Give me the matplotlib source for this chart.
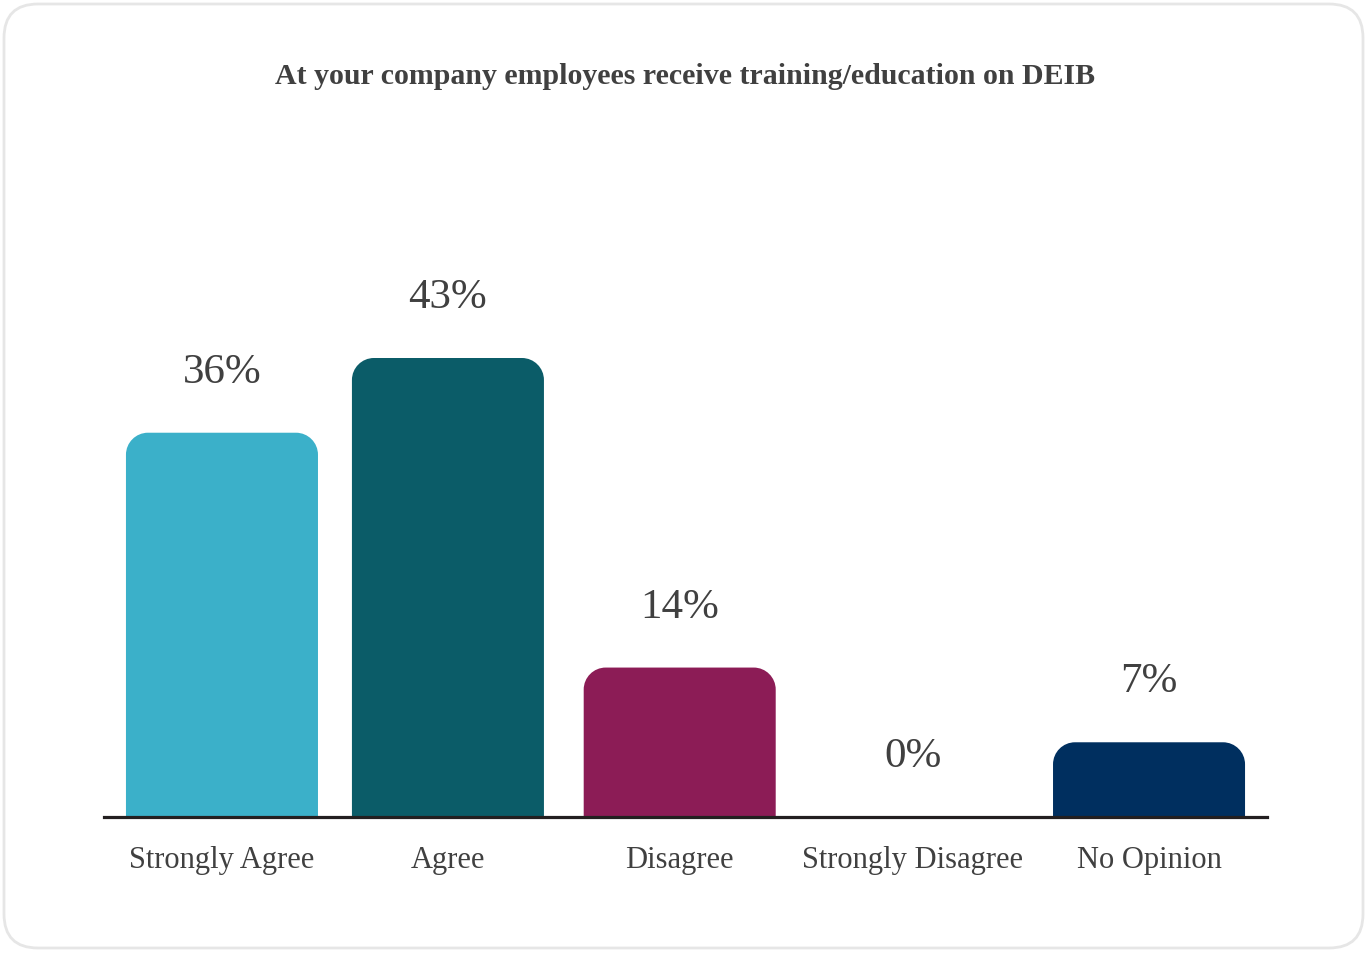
import matplotlib
matplotlib.use('Agg')
import matplotlib.pyplot as plt
from matplotlib.path import Path
from matplotlib.patches import PathPatch, FancyBboxPatch

# survey answers and shares (percent)
categories = ['Strongly Agree', 'Agree', 'Disagree', 'Strongly Disagree', 'No Opinion']
shares = [36, 43, 14, 0, 7]
bar_colors = ['#3BB0C9', '#0B5C68', '#8C1C56', '#6E6E6E', '#002F5F']
title = 'At your company employees receive training/education on DEIB'

W, H = 1367, 954
txt = '#404040'
serif = ['Liberation Serif', 'DejaVu Serif']

fig = plt.figure(figsize=(W / 100, H / 100), dpi=100)

# background card with rounded border, drawn in pixel units
bg = fig.add_axes([0, 0, 1, 1])
bg.set_xlim(0, W)
bg.set_ylim(0, H)
bg.axis('off')
card = FancyBboxPatch((4 + 34, 5 + 34), W - 8 - 68, H - 10 - 68,
                      boxstyle='round,pad=34,rounding_size=34',
                      facecolor='white', edgecolor='#E6E6E6', linewidth=2)
bg.add_patch(card)

# plotting area: baseline at y=818 px, ~231.75 px between bars
left, right = 104, 1267
base_y = 818
px_per_pct = 459 / 43
ax = fig.add_axes([left / W, (H - base_y) / H, (right - left) / W, 520 / H])
ax.set_xlim(-0.509, 4.509)
ax.set_ylim(0, 520 / px_per_pct)
ax.patch.set_visible(False)
for s in ['top', 'right', 'left']:
    ax.spines[s].set_visible(False)
ax.spines['bottom'].set_color('#231F20')
ax.spines['bottom'].set_linewidth(2.3)
ax.set_yticks([])

bar_w = 192 / 231.75
rad_px = 22
rx = rad_px / 231.75
ry = rad_px / px_per_pct
k = 0.5523


def rounded_top(x0, w, h):
    # bar outline with rounded top corners (quarter circles as bezier curves)
    x1 = x0 + w
    r_y = min(ry, h)
    verts = [(x0, 0), (x0, h - r_y),
             (x0, h - r_y + k * r_y), (x0 + rx - k * rx, h), (x0 + rx, h),
             (x1 - rx, h),
             (x1 - rx + k * rx, h), (x1, h - r_y + k * r_y), (x1, h - r_y),
             (x1, 0), (x0, 0)]
    codes = [Path.MOVETO, Path.LINETO,
             Path.CURVE4, Path.CURVE4, Path.CURVE4,
             Path.LINETO,
             Path.CURVE4, Path.CURVE4, Path.CURVE4,
             Path.LINETO, Path.CLOSEPOLY]
    return Path(verts, codes)


xpos = [0, 0.975, 1.975, 2.98, 4]
bars = ax.bar(xpos, shares, width=bar_w, color=bar_colors)
for b, c in zip(bars, bar_colors):
    b.set_visible(False)
    if b.get_height() > 0:
        ax.add_patch(PathPatch(rounded_top(b.get_x(), b.get_width(), b.get_height()),
                               facecolor=c, edgecolor='none', zorder=2))

for x, v in zip(xpos, shares):
    ax.annotate(f'{v}%', (x, v), xytext=(0, 44), textcoords='offset points',
                ha='center', va='center', fontsize=31, color=txt,
                family=serif, annotation_clip=False)

ax.set_xticks(xpos)
ax.set_xticklabels(categories, fontsize=22, color=txt, family=serif)
ax.tick_params(axis='x', length=0, pad=20)

fig.text(685 / W, 1 - 76 / H, title, ha='center', va='center',
         fontsize=21.5, fontweight='bold', color=txt, family=serif)

fig.savefig('out.png', dpi=100)
